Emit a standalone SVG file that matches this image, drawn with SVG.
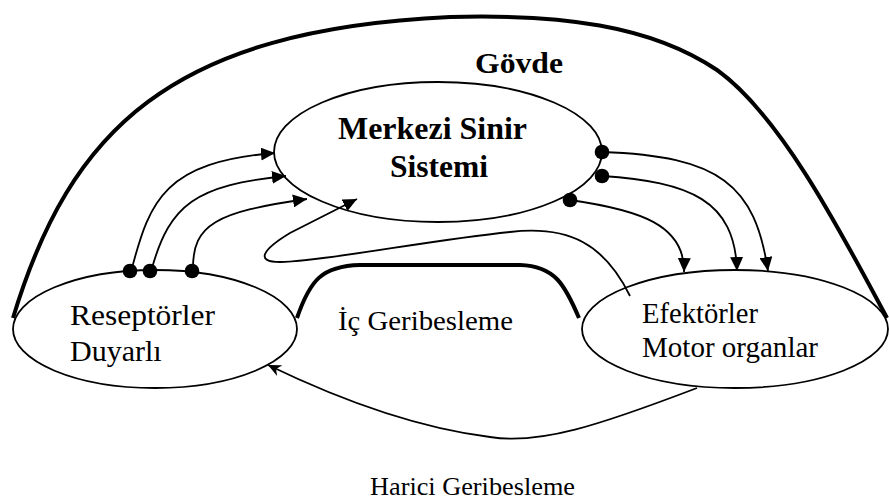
<svg xmlns="http://www.w3.org/2000/svg" width="889" height="503" viewBox="0 0 889 503">
<style>
.n{fill:#fff;stroke:#000;stroke-width:1.8}
.c{fill:none;stroke:#000;stroke-width:1.8}
.thick{fill:none;stroke:#000;stroke-width:4}
.t{font-family:"Liberation Serif","Times New Roman",serif;fill:#000}
.b{font-weight:bold}
.dot{fill:#000}
</style>
<defs>
<marker id="ah" markerUnits="userSpaceOnUse" markerWidth="15" markerHeight="13" refX="14" refY="6.5" orient="auto">
<path d="M0,0 L14,6.5 L0,13 z" fill="#000"/>
</marker>
<marker id="st" markerUnits="userSpaceOnUse" markerWidth="14" markerHeight="12" refX="13" refY="6" orient="auto">
<path d="M0,0 L13,6 L0,12 L4,6 z" fill="#000"/>
</marker>
</defs>
<rect width="889" height="503" fill="#fff"/>
<g id="body">
<path class="thick" d="M13,318 C70,130 170,30 450,17 C560,14 650,25 717,70 C780,115 840,230 887,318"/>
<text class="t b" x="475" y="73" font-size="30" textLength="88" lengthAdjust="spacingAndGlyphs">Gövde</text>
</g>
<g id="mss">
<ellipse class="n" cx="438" cy="152" rx="164" ry="70"/>
<text class="t b" x="338" y="139" font-size="31" textLength="189" lengthAdjust="spacingAndGlyphs">Merkezi Sinir</text>
<text class="t b" x="390" y="177" font-size="31" textLength="98" lengthAdjust="spacingAndGlyphs">Sistemi</text>
</g>
<g id="reseptorler">
<ellipse class="n" cx="155" cy="329" rx="142" ry="59"/>
<text class="t" x="70" y="325" font-size="30" textLength="145" lengthAdjust="spacingAndGlyphs">Reseptörler</text>
<text class="t" x="70" y="361" font-size="30">Duyarlı</text>
</g>
<g id="efektorler">
<ellipse class="n" cx="735" cy="329" rx="153" ry="59"/>
<text class="t" x="642" y="323" font-size="28.5" textLength="116" lengthAdjust="spacingAndGlyphs">Efektörler</text>
<text class="t" x="642" y="357" font-size="28.5" textLength="176" lengthAdjust="spacingAndGlyphs">Motor organlar</text>
</g>
<g id="ic-geribesleme">
<path class="thick" d="M297,318 C310,280 322,266 360,265 L520,265 C555,266 565,285 579,318"/>
<text class="t" x="338" y="330" font-size="27" textLength="175" lengthAdjust="spacingAndGlyphs">İç Geribesleme</text>
</g>
<g id="harici-geribesleme">
<text class="t" x="370" y="495" font-size="26" textLength="205" lengthAdjust="spacingAndGlyphs">Harici Geribesleme</text>
</g>
<g id="connectors">
<path class="c" d="M132,268 C150,200 165,162 275,153" marker-end="url(#ah)"/>
<path class="c" d="M152,268 C170,205 195,185 286,176" marker-end="url(#ah)"/>
<path class="c" d="M193,268 C193,225 215,212 307,199" marker-end="url(#ah)"/>
<path class="c" d="M602,152 C720,156 755,185 768,271" marker-end="url(#ah)"/>
<path class="c" d="M602,176 C690,182 735,200 737,271" marker-end="url(#ah)"/>
<path class="c" d="M570,200 C640,210 685,225 684,272" marker-end="url(#ah)"/>
<path class="c" d="M630,296 C605,245 570,225 510,232 C430,240 320,262 280,262 C255,262 262,250 290,233 L357,199" marker-end="url(#ah)"/>
<path class="c" d="M697,388 C600,425 540,445 490,437 C410,427 330,395 268,365" marker-end="url(#st)"/>
<circle class="dot" cx="130" cy="271" r="7.3"/>
<circle class="dot" cx="150" cy="271" r="7.3"/>
<circle class="dot" cx="192" cy="271" r="7.3"/>
<circle class="dot" cx="602" cy="152" r="7.3"/>
<circle class="dot" cx="602" cy="176" r="7.3"/>
<circle class="dot" cx="570" cy="200" r="7.3"/>
</g>
</svg>
